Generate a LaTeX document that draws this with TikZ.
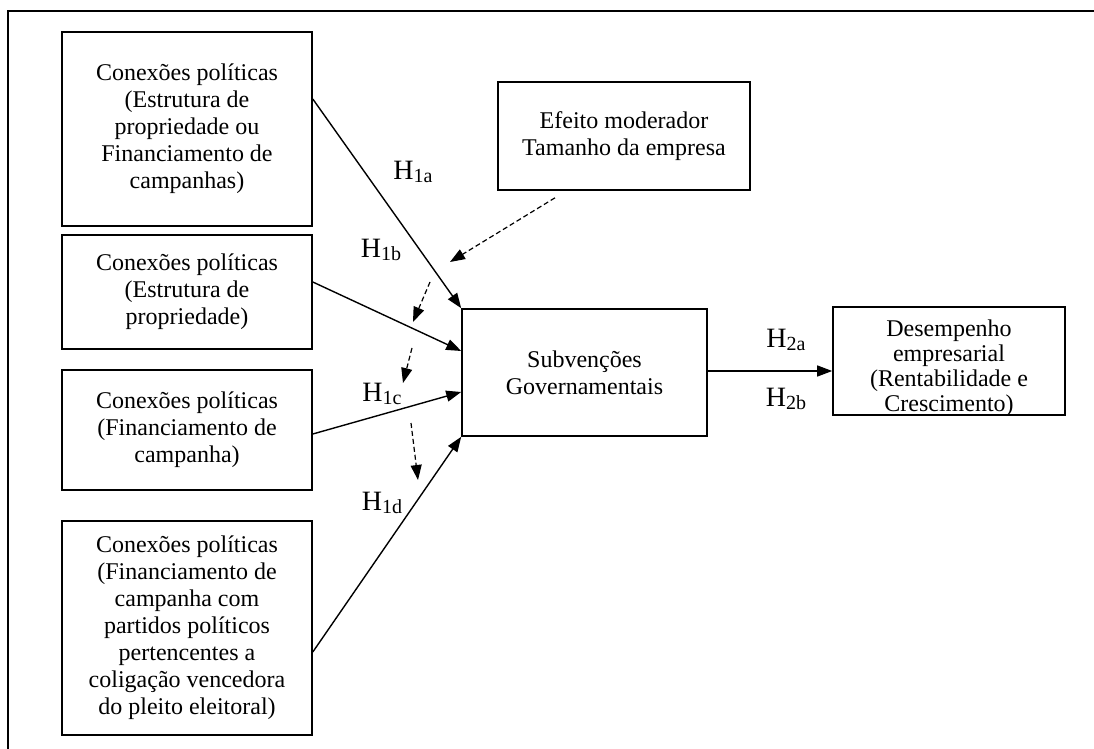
\documentclass[tikz,border=0pt]{standalone}
\usepackage{fontspec}
\setmainfont{Liberation Serif}
\usetikzlibrary{arrows.meta}
\newcommand{\hyp}[1]{{\fontsize{14}{14}\selectfont H}\raisebox{-1.2pt}{\fontsize{10}{10}\selectfont #1}}

\begin{document}
\begin{tikzpicture}[x=0.5pt,y=-0.5pt,>={Triangle[length=7.5pt,width=5.5pt]},
  box/.style={draw,line width=0.8pt,align=center,inner sep=0pt,font=\fontsize{12}{13.5}\selectfont},
  hl/.style={inner sep=1pt},
  mod/.style={->,dash pattern=on 2.5pt off 1.5pt,line width=0.6pt}]
\useasboundingbox (0,0) rectangle (1094,749);
\draw[line width=1pt] (8,749) -- (8,11) -- (1094,11);
% caixas
\node[box,minimum width=125pt,minimum height=97pt] (pc1) at (187,129) {Conexões políticas\\(Estrutura de\\propriedade ou\\Financiamento de\\campanhas)};
\node[box,minimum width=125pt,minimum height=57pt] (pc2) at (187,292) {Conexões políticas\\(Estrutura de\\propriedade)};
\node[box,minimum width=125pt,minimum height=60pt] (pc3) at (187,430) {Conexões políticas\\(Financiamento de\\campanha)};
\node[box,minimum width=125pt,minimum height=107pt] (pc4) at (187,628) {Conexões políticas\\(Financiamento de\\campanha com\\partidos políticos\\pertencentes a\\coligação vencedora\\do pleito eleitoral)};
\node[box,minimum width=126pt,minimum height=54pt] (eff) at (624,136) {Efeito moderador\\Tamanho da empresa};
\node[box,minimum width=122.5pt,minimum height=63.5pt] (sub) at (584.5,372.5) {Subvenções\\Governamentais};
\node[box,minimum width=116pt,minimum height=54pt,font=\fontsize{12}{12.5}\selectfont,text height=52pt,text depth=2pt] (des) at (949,361) {Desempenho\\empresarial\\(Rentabilidade e\\Crescimento)};
% hipoteses
\draw[->,line width=0.7pt] (pc1.east |- 0,99) -- (sub.north west);
\draw[->,line width=0.7pt] (pc2.east |- 0,282) -- (sub.west |- 0,351);
\draw[->,line width=0.7pt] (pc3.east |- 0,434) -- (sub.west |- 0,392);
\draw[->,line width=0.7pt] (pc4.east |- 0,652) -- (sub.south west);
\draw[->,line width=0.7pt] (sub.east |- 0,371) -- (des.west |- 0,371);
\node[hl] (h1a) at (413,172) {\hyp{1a}};
\node[hl] (h1b) at (381,250) {\hyp{1b}};
\node[hl] (h1c) at (382,394) {\hyp{1c}};
\node[hl] (h1d) at (382,503) {\hyp{1d}};
\node[hl] (h2a) at (786,340) {\hyp{2a}};
\node[hl] (h2b) at (786,399) {\hyp{2b}};
% moderacao
\coordinate (m1) at (450,262);
\coordinate (m2a) at (430,282);
\coordinate (m2b) at (413,322);
\coordinate (m3a) at (412,348);
\coordinate (m3b) at (403,383);
\coordinate (m4a) at (411,423);
\coordinate (m4b) at (418,480);
\draw[mod] (eff.south -| 555,0) ++(0,7) -- (m1);
\draw[mod] (m2a) -- (m2b);
\draw[mod] (m3a) -- (m3b);
\draw[mod] (m4a) -- (m4b);
\end{tikzpicture}
\end{document}
